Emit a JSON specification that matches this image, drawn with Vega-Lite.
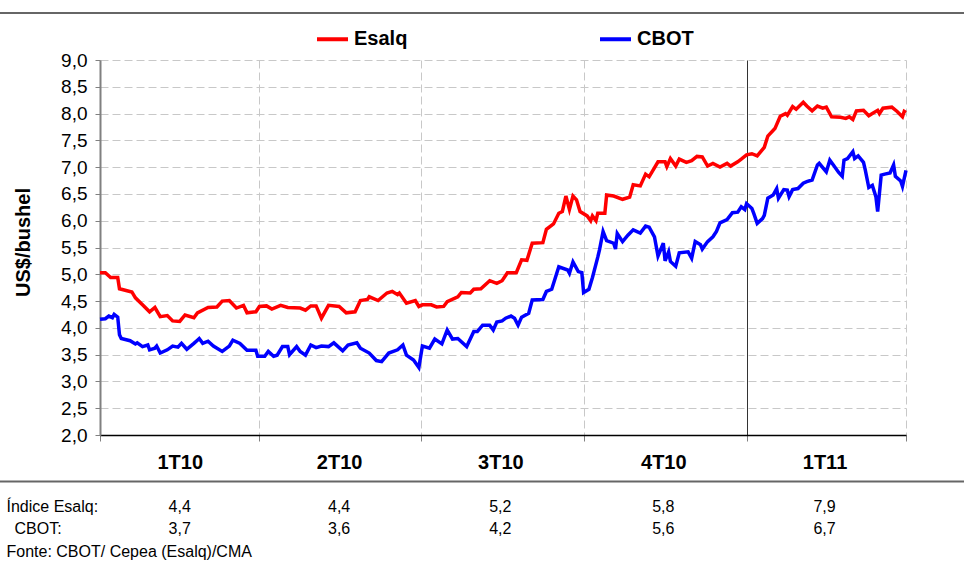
{
"$schema":"https://vega.github.io/schema/vega-lite/v6.json",
"width":964,"height":375,
"autosize":{"type":"none"},
"padding":{"left":0,"top":60,"right":0,"bottom":130},
"background":"white",
"config":{"font":"Liberation Sans","view":{"stroke":null},
"locale":{"number":{"decimal":",","thousands":".","grouping":[3],"currency":["R$",""]}},
"axis":{"labelFont":"Liberation Sans","titleFont":"Liberation Sans"},
"legend":{"labelFont":"Liberation Sans"},
"text":{"font":"Liberation Sans"}},
"datasets":{
"frame":[{"line":"topo"},{"line":"base"}],
"table":[
{"quarter":"2010-02-15","row":"Índice Esalq:","value":4.4},
{"quarter":"2010-05-16","row":"Índice Esalq:","value":4.4},
{"quarter":"2010-08-15","row":"Índice Esalq:","value":5.2},
{"quarter":"2010-11-15","row":"Índice Esalq:","value":5.8},
{"quarter":"2011-02-14","row":"Índice Esalq:","value":7.9},
{"quarter":"2010-02-15","row":"CBOT:","value":3.7},
{"quarter":"2010-05-16","row":"CBOT:","value":3.6},
{"quarter":"2010-08-15","row":"CBOT:","value":4.2},
{"quarter":"2010-11-15","row":"CBOT:","value":5.6},
{"quarter":"2011-02-14","row":"CBOT:","value":6.7}
],
"prices":[
{"date":"2010-01-01","series":"Esalq","price":5.03},
{"date":"2010-01-04","series":"Esalq","price":5.03},
{"date":"2010-01-07","series":"Esalq","price":4.94},
{"date":"2010-01-11","series":"Esalq","price":4.94},
{"date":"2010-01-12","series":"Esalq","price":4.73},
{"date":"2010-01-19","series":"Esalq","price":4.67},
{"date":"2010-01-21","series":"Esalq","price":4.56},
{"date":"2010-01-25","series":"Esalq","price":4.43},
{"date":"2010-01-29","series":"Esalq","price":4.30},
{"date":"2010-02-01","series":"Esalq","price":4.38},
{"date":"2010-02-04","series":"Esalq","price":4.21},
{"date":"2010-02-08","series":"Esalq","price":4.23},
{"date":"2010-02-11","series":"Esalq","price":4.13},
{"date":"2010-02-15","series":"Esalq","price":4.12},
{"date":"2010-02-18","series":"Esalq","price":4.24},
{"date":"2010-02-23","series":"Esalq","price":4.19},
{"date":"2010-02-25","series":"Esalq","price":4.28},
{"date":"2010-03-03","series":"Esalq","price":4.38},
{"date":"2010-03-08","series":"Esalq","price":4.39},
{"date":"2010-03-11","series":"Esalq","price":4.50},
{"date":"2010-03-15","series":"Esalq","price":4.51},
{"date":"2010-03-19","series":"Esalq","price":4.37},
{"date":"2010-03-23","series":"Esalq","price":4.42},
{"date":"2010-03-25","series":"Esalq","price":4.28},
{"date":"2010-03-30","series":"Esalq","price":4.30},
{"date":"2010-04-01","series":"Esalq","price":4.40},
{"date":"2010-04-05","series":"Esalq","price":4.41},
{"date":"2010-04-08","series":"Esalq","price":4.35},
{"date":"2010-04-13","series":"Esalq","price":4.42},
{"date":"2010-04-17","series":"Esalq","price":4.38},
{"date":"2010-04-24","series":"Esalq","price":4.37},
{"date":"2010-04-27","series":"Esalq","price":4.33},
{"date":"2010-04-30","series":"Esalq","price":4.41},
{"date":"2010-05-03","series":"Esalq","price":4.41},
{"date":"2010-05-06","series":"Esalq","price":4.18},
{"date":"2010-05-10","series":"Esalq","price":4.42},
{"date":"2010-05-16","series":"Esalq","price":4.40},
{"date":"2010-05-20","series":"Esalq","price":4.28},
{"date":"2010-05-25","series":"Esalq","price":4.30},
{"date":"2010-05-28","series":"Esalq","price":4.51},
{"date":"2010-06-01","series":"Esalq","price":4.53},
{"date":"2010-06-02","series":"Esalq","price":4.58},
{"date":"2010-06-07","series":"Esalq","price":4.51},
{"date":"2010-06-12","series":"Esalq","price":4.65},
{"date":"2010-06-15","series":"Esalq","price":4.68},
{"date":"2010-06-18","series":"Esalq","price":4.62},
{"date":"2010-06-19","series":"Esalq","price":4.65},
{"date":"2010-06-23","series":"Esalq","price":4.46},
{"date":"2010-06-28","series":"Esalq","price":4.51},
{"date":"2010-06-30","series":"Esalq","price":4.40},
{"date":"2010-07-02","series":"Esalq","price":4.43},
{"date":"2010-07-07","series":"Esalq","price":4.43},
{"date":"2010-07-10","series":"Esalq","price":4.39},
{"date":"2010-07-14","series":"Esalq","price":4.40},
{"date":"2010-07-16","series":"Esalq","price":4.49},
{"date":"2010-07-22","series":"Esalq","price":4.58},
{"date":"2010-07-24","series":"Esalq","price":4.66},
{"date":"2010-07-29","series":"Esalq","price":4.65},
{"date":"2010-07-31","series":"Esalq","price":4.72},
{"date":"2010-08-04","series":"Esalq","price":4.73},
{"date":"2010-08-09","series":"Esalq","price":4.88},
{"date":"2010-08-13","series":"Esalq","price":4.83},
{"date":"2010-08-16","series":"Esalq","price":4.88},
{"date":"2010-08-19","series":"Esalq","price":5.03},
{"date":"2010-08-24","series":"Esalq","price":5.03},
{"date":"2010-08-27","series":"Esalq","price":5.27},
{"date":"2010-08-30","series":"Esalq","price":5.26},
{"date":"2010-09-02","series":"Esalq","price":5.58},
{"date":"2010-09-08","series":"Esalq","price":5.59},
{"date":"2010-09-10","series":"Esalq","price":5.84},
{"date":"2010-09-14","series":"Esalq","price":5.94},
{"date":"2010-09-17","series":"Esalq","price":6.14},
{"date":"2010-09-19","series":"Esalq","price":6.17},
{"date":"2010-09-21","series":"Esalq","price":6.46},
{"date":"2010-09-23","series":"Esalq","price":6.21},
{"date":"2010-09-25","series":"Esalq","price":6.46},
{"date":"2010-09-27","series":"Esalq","price":6.39},
{"date":"2010-09-29","series":"Esalq","price":6.17},
{"date":"2010-10-03","series":"Esalq","price":6.09},
{"date":"2010-10-05","series":"Esalq","price":6.00},
{"date":"2010-10-06","series":"Esalq","price":6.09},
{"date":"2010-10-08","series":"Esalq","price":6.00},
{"date":"2010-10-09","series":"Esalq","price":6.14},
{"date":"2010-10-13","series":"Esalq","price":6.14},
{"date":"2010-10-14","series":"Esalq","price":6.48},
{"date":"2010-10-18","series":"Esalq","price":6.46},
{"date":"2010-10-23","series":"Esalq","price":6.40},
{"date":"2010-10-27","series":"Esalq","price":6.44},
{"date":"2010-10-29","series":"Esalq","price":6.67},
{"date":"2010-11-02","series":"Esalq","price":6.65},
{"date":"2010-11-05","series":"Esalq","price":6.87},
{"date":"2010-11-07","series":"Esalq","price":6.82},
{"date":"2010-11-12","series":"Esalq","price":7.10},
{"date":"2010-11-16","series":"Esalq","price":7.10},
{"date":"2010-11-17","series":"Esalq","price":7.01},
{"date":"2010-11-19","series":"Esalq","price":7.16},
{"date":"2010-11-22","series":"Esalq","price":7.02},
{"date":"2010-11-24","series":"Esalq","price":7.15},
{"date":"2010-11-28","series":"Esalq","price":7.09},
{"date":"2010-12-01","series":"Esalq","price":7.12},
{"date":"2010-12-04","series":"Esalq","price":7.20},
{"date":"2010-12-07","series":"Esalq","price":7.19},
{"date":"2010-12-10","series":"Esalq","price":7.02},
{"date":"2010-12-13","series":"Esalq","price":7.07},
{"date":"2010-12-17","series":"Esalq","price":7.00},
{"date":"2010-12-21","series":"Esalq","price":7.07},
{"date":"2010-12-23","series":"Esalq","price":7.02},
{"date":"2010-12-27","series":"Esalq","price":7.10},
{"date":"2010-12-29","series":"Esalq","price":7.15},
{"date":"2011-01-01","series":"Esalq","price":7.23},
{"date":"2011-01-04","series":"Esalq","price":7.25},
{"date":"2011-01-07","series":"Esalq","price":7.21},
{"date":"2011-01-09","series":"Esalq","price":7.29},
{"date":"2011-01-11","series":"Esalq","price":7.37},
{"date":"2011-01-13","series":"Esalq","price":7.58},
{"date":"2011-01-17","series":"Esalq","price":7.72},
{"date":"2011-01-20","series":"Esalq","price":7.95},
{"date":"2011-01-23","series":"Esalq","price":8.00},
{"date":"2011-01-24","series":"Esalq","price":7.97},
{"date":"2011-01-27","series":"Esalq","price":8.13},
{"date":"2011-01-29","series":"Esalq","price":8.08},
{"date":"2011-02-02","series":"Esalq","price":8.21},
{"date":"2011-02-04","series":"Esalq","price":8.14},
{"date":"2011-02-07","series":"Esalq","price":8.05},
{"date":"2011-02-10","series":"Esalq","price":8.14},
{"date":"2011-02-13","series":"Esalq","price":8.10},
{"date":"2011-02-15","series":"Esalq","price":8.12},
{"date":"2011-02-18","series":"Esalq","price":7.94},
{"date":"2011-02-23","series":"Esalq","price":7.93},
{"date":"2011-02-26","series":"Esalq","price":7.91},
{"date":"2011-02-28","series":"Esalq","price":7.94},
{"date":"2011-03-02","series":"Esalq","price":7.89},
{"date":"2011-03-04","series":"Esalq","price":8.05},
{"date":"2011-03-08","series":"Esalq","price":8.06},
{"date":"2011-03-11","series":"Esalq","price":7.96},
{"date":"2011-03-13","series":"Esalq","price":8.00},
{"date":"2011-03-16","series":"Esalq","price":8.06},
{"date":"2011-03-17","series":"Esalq","price":8.00},
{"date":"2011-03-19","series":"Esalq","price":8.10},
{"date":"2011-03-24","series":"Esalq","price":8.12},
{"date":"2011-03-27","series":"Esalq","price":8.04},
{"date":"2011-03-30","series":"Esalq","price":7.94},
{"date":"2011-03-31","series":"Esalq","price":8.04},
{"date":"2011-04-01","series":"Esalq","price":8.02},
{"date":"2010-01-01","series":"CBOT","price":4.16},
{"date":"2010-01-04","series":"CBOT","price":4.17},
{"date":"2010-01-06","series":"CBOT","price":4.22},
{"date":"2010-01-08","series":"CBOT","price":4.19},
{"date":"2010-01-09","series":"CBOT","price":4.25},
{"date":"2010-01-11","series":"CBOT","price":4.20},
{"date":"2010-01-12","series":"CBOT","price":3.87},
{"date":"2010-01-13","series":"CBOT","price":3.80},
{"date":"2010-01-18","series":"CBOT","price":3.76},
{"date":"2010-01-21","series":"CBOT","price":3.70},
{"date":"2010-01-22","series":"CBOT","price":3.72},
{"date":"2010-01-25","series":"CBOT","price":3.65},
{"date":"2010-01-28","series":"CBOT","price":3.68},
{"date":"2010-01-29","series":"CBOT","price":3.59},
{"date":"2010-02-01","series":"CBOT","price":3.62},
{"date":"2010-02-02","series":"CBOT","price":3.66},
{"date":"2010-02-04","series":"CBOT","price":3.53},
{"date":"2010-02-08","series":"CBOT","price":3.59},
{"date":"2010-02-11","series":"CBOT","price":3.66},
{"date":"2010-02-14","series":"CBOT","price":3.64},
{"date":"2010-02-16","series":"CBOT","price":3.71},
{"date":"2010-02-19","series":"CBOT","price":3.60},
{"date":"2010-02-23","series":"CBOT","price":3.71},
{"date":"2010-02-25","series":"CBOT","price":3.77},
{"date":"2010-02-26","series":"CBOT","price":3.80},
{"date":"2010-02-28","series":"CBOT","price":3.71},
{"date":"2010-03-03","series":"CBOT","price":3.75},
{"date":"2010-03-06","series":"CBOT","price":3.66},
{"date":"2010-03-11","series":"CBOT","price":3.56},
{"date":"2010-03-15","series":"CBOT","price":3.66},
{"date":"2010-03-17","series":"CBOT","price":3.77},
{"date":"2010-03-21","series":"CBOT","price":3.71},
{"date":"2010-03-25","series":"CBOT","price":3.58},
{"date":"2010-03-30","series":"CBOT","price":3.58},
{"date":"2010-03-31","series":"CBOT","price":3.47},
{"date":"2010-04-04","series":"CBOT","price":3.47},
{"date":"2010-04-06","series":"CBOT","price":3.56},
{"date":"2010-04-09","series":"CBOT","price":3.47},
{"date":"2010-04-11","series":"CBOT","price":3.49},
{"date":"2010-04-14","series":"CBOT","price":3.65},
{"date":"2010-04-17","series":"CBOT","price":3.65},
{"date":"2010-04-18","series":"CBOT","price":3.50},
{"date":"2010-04-22","series":"CBOT","price":3.65},
{"date":"2010-04-24","series":"CBOT","price":3.56},
{"date":"2010-04-27","series":"CBOT","price":3.49},
{"date":"2010-04-30","series":"CBOT","price":3.68},
{"date":"2010-05-03","series":"CBOT","price":3.63},
{"date":"2010-05-06","series":"CBOT","price":3.66},
{"date":"2010-05-10","series":"CBOT","price":3.65},
{"date":"2010-05-13","series":"CBOT","price":3.72},
{"date":"2010-05-18","series":"CBOT","price":3.57},
{"date":"2010-05-21","series":"CBOT","price":3.68},
{"date":"2010-05-26","series":"CBOT","price":3.72},
{"date":"2010-05-28","series":"CBOT","price":3.62},
{"date":"2010-06-02","series":"CBOT","price":3.53},
{"date":"2010-06-06","series":"CBOT","price":3.39},
{"date":"2010-06-09","series":"CBOT","price":3.37},
{"date":"2010-06-13","series":"CBOT","price":3.53},
{"date":"2010-06-18","series":"CBOT","price":3.59},
{"date":"2010-06-21","series":"CBOT","price":3.68},
{"date":"2010-06-23","series":"CBOT","price":3.49},
{"date":"2010-06-27","series":"CBOT","price":3.40},
{"date":"2010-06-30","series":"CBOT","price":3.26},
{"date":"2010-07-02","series":"CBOT","price":3.66},
{"date":"2010-07-06","series":"CBOT","price":3.62},
{"date":"2010-07-09","series":"CBOT","price":3.79},
{"date":"2010-07-13","series":"CBOT","price":3.70},
{"date":"2010-07-16","series":"CBOT","price":3.96},
{"date":"2010-07-19","series":"CBOT","price":3.79},
{"date":"2010-07-22","series":"CBOT","price":3.80},
{"date":"2010-07-27","series":"CBOT","price":3.65},
{"date":"2010-07-31","series":"CBOT","price":3.93},
{"date":"2010-08-02","series":"CBOT","price":3.93},
{"date":"2010-08-05","series":"CBOT","price":4.05},
{"date":"2010-08-09","series":"CBOT","price":4.05},
{"date":"2010-08-11","series":"CBOT","price":3.96},
{"date":"2010-08-13","series":"CBOT","price":4.11},
{"date":"2010-08-16","series":"CBOT","price":4.13},
{"date":"2010-08-18","series":"CBOT","price":4.18},
{"date":"2010-08-21","series":"CBOT","price":4.22},
{"date":"2010-08-23","series":"CBOT","price":4.18},
{"date":"2010-08-25","series":"CBOT","price":4.05},
{"date":"2010-08-27","series":"CBOT","price":4.20},
{"date":"2010-08-31","series":"CBOT","price":4.27},
{"date":"2010-09-02","series":"CBOT","price":4.52},
{"date":"2010-09-08","series":"CBOT","price":4.53},
{"date":"2010-09-10","series":"CBOT","price":4.68},
{"date":"2010-09-13","series":"CBOT","price":4.72},
{"date":"2010-09-17","series":"CBOT","price":5.14},
{"date":"2010-09-22","series":"CBOT","price":5.08},
{"date":"2010-09-23","series":"CBOT","price":5.02},
{"date":"2010-09-25","series":"CBOT","price":5.23},
{"date":"2010-09-28","series":"CBOT","price":5.05},
{"date":"2010-09-30","series":"CBOT","price":5.03},
{"date":"2010-10-01","series":"CBOT","price":4.66},
{"date":"2010-10-04","series":"CBOT","price":4.72},
{"date":"2010-10-06","series":"CBOT","price":4.94},
{"date":"2010-10-09","series":"CBOT","price":5.32},
{"date":"2010-10-10","series":"CBOT","price":5.46},
{"date":"2010-10-12","series":"CBOT","price":5.80},
{"date":"2010-10-14","series":"CBOT","price":5.63},
{"date":"2010-10-18","series":"CBOT","price":5.58},
{"date":"2010-10-19","series":"CBOT","price":5.47},
{"date":"2010-10-20","series":"CBOT","price":5.76},
{"date":"2010-10-23","series":"CBOT","price":5.61},
{"date":"2010-10-26","series":"CBOT","price":5.73},
{"date":"2010-10-29","series":"CBOT","price":5.83},
{"date":"2010-11-02","series":"CBOT","price":5.77},
{"date":"2010-11-05","series":"CBOT","price":5.90},
{"date":"2010-11-07","series":"CBOT","price":5.88},
{"date":"2010-11-10","series":"CBOT","price":5.70},
{"date":"2010-11-12","series":"CBOT","price":5.34},
{"date":"2010-11-15","series":"CBOT","price":5.58},
{"date":"2010-11-16","series":"CBOT","price":5.25},
{"date":"2010-11-18","series":"CBOT","price":5.42},
{"date":"2010-11-19","series":"CBOT","price":5.24},
{"date":"2010-11-22","series":"CBOT","price":5.15},
{"date":"2010-11-24","series":"CBOT","price":5.40},
{"date":"2010-11-29","series":"CBOT","price":5.42},
{"date":"2010-12-01","series":"CBOT","price":5.30},
{"date":"2010-12-03","series":"CBOT","price":5.61},
{"date":"2010-12-06","series":"CBOT","price":5.55},
{"date":"2010-12-07","series":"CBOT","price":5.47},
{"date":"2010-12-10","series":"CBOT","price":5.61},
{"date":"2010-12-13","series":"CBOT","price":5.70},
{"date":"2010-12-15","series":"CBOT","price":5.80},
{"date":"2010-12-17","series":"CBOT","price":5.96},
{"date":"2010-12-21","series":"CBOT","price":6.02},
{"date":"2010-12-24","series":"CBOT","price":6.15},
{"date":"2010-12-27","series":"CBOT","price":6.16},
{"date":"2010-12-29","series":"CBOT","price":6.26},
{"date":"2010-12-31","series":"CBOT","price":6.21},
{"date":"2011-01-01","series":"CBOT","price":6.32},
{"date":"2011-01-04","series":"CBOT","price":6.23},
{"date":"2011-01-05","series":"CBOT","price":6.14},
{"date":"2011-01-07","series":"CBOT","price":5.95},
{"date":"2011-01-10","series":"CBOT","price":6.04},
{"date":"2011-01-11","series":"CBOT","price":6.10},
{"date":"2011-01-13","series":"CBOT","price":6.42},
{"date":"2011-01-16","series":"CBOT","price":6.48},
{"date":"2011-01-18","series":"CBOT","price":6.60},
{"date":"2011-01-19","series":"CBOT","price":6.42},
{"date":"2011-01-22","series":"CBOT","price":6.58},
{"date":"2011-01-24","series":"CBOT","price":6.57},
{"date":"2011-01-25","series":"CBOT","price":6.45},
{"date":"2011-01-27","series":"CBOT","price":6.58},
{"date":"2011-01-30","series":"CBOT","price":6.60},
{"date":"2011-02-02","series":"CBOT","price":6.70},
{"date":"2011-02-04","series":"CBOT","price":6.73},
{"date":"2011-02-07","series":"CBOT","price":6.76},
{"date":"2011-02-10","series":"CBOT","price":7.04},
{"date":"2011-02-11","series":"CBOT","price":7.07},
{"date":"2011-02-15","series":"CBOT","price":6.91},
{"date":"2011-02-17","series":"CBOT","price":7.13},
{"date":"2011-02-19","series":"CBOT","price":7.04},
{"date":"2011-02-22","series":"CBOT","price":6.90},
{"date":"2011-02-24","series":"CBOT","price":6.83},
{"date":"2011-02-25","series":"CBOT","price":7.13},
{"date":"2011-02-27","series":"CBOT","price":7.16},
{"date":"2011-03-02","series":"CBOT","price":7.29},
{"date":"2011-03-03","series":"CBOT","price":7.16},
{"date":"2011-03-05","series":"CBOT","price":7.21},
{"date":"2011-03-08","series":"CBOT","price":7.09},
{"date":"2011-03-09","series":"CBOT","price":6.95},
{"date":"2011-03-11","series":"CBOT","price":6.62},
{"date":"2011-03-13","series":"CBOT","price":6.66},
{"date":"2011-03-15","series":"CBOT","price":6.45},
{"date":"2011-03-16","series":"CBOT","price":6.17},
{"date":"2011-03-18","series":"CBOT","price":6.85},
{"date":"2011-03-20","series":"CBOT","price":6.87},
{"date":"2011-03-23","series":"CBOT","price":6.89},
{"date":"2011-03-25","series":"CBOT","price":7.04},
{"date":"2011-03-26","series":"CBOT","price":6.83},
{"date":"2011-03-29","series":"CBOT","price":6.74},
{"date":"2011-03-30","series":"CBOT","price":6.64},
{"date":"2011-04-01","series":"CBOT","price":6.94}
]},
"layer":[
{"data":{"name":"frame"},
"mark":{"type":"rule","color":"#666666","strokeWidth":2},
"encoding":{"y":{"field":"line","type":"nominal","scale":{"type":"point","domain":["topo","base"],"range":[-47,421.5],"padding":0},"axis":null}}},
{"data":{"name":"prices"},
"mark":{"type":"line","strokeWidth":3.5},
"encoding":{
"x":{"field":"date","type":"temporal",
"scale":{"type":"utc","domain":[{"year":2010,"month":1,"date":1,"utc":true},{"year":2011,"month":4,"date":1,"utc":true}],"range":[100,906],"nice":false},
"axis":{"values":[
{"year":2010,"month":1,"date":1,"utc":true},
{"year":2010,"month":2,"date":15,"utc":true},
{"year":2010,"month":4,"date":1,"utc":true},
{"year":2010,"month":5,"date":16,"utc":true},
{"year":2010,"month":7,"date":1,"utc":true},
{"year":2010,"month":8,"date":15,"utc":true},
{"year":2010,"month":10,"date":1,"utc":true},
{"year":2010,"month":11,"date":15,"utc":true},
{"year":2011,"month":1,"date":1,"utc":true},
{"year":2011,"month":2,"date":14,"utc":true},
{"year":2011,"month":4,"date":1,"utc":true}],
"title":null,"grid":true,
"gridColor":{"condition":{"test":"utcyear(datum.value)==2011 && utcmonth(datum.value)==0 && utcdate(datum.value)==1","value":"#333333"},"value":"#c8c8c8"},
"gridDash":{"condition":{"test":"utcyear(datum.value)==2011 && utcmonth(datum.value)==0 && utcdate(datum.value)==1","value":[]},"value":[8,4]},
"gridOpacity":{"condition":{"test":"utcdate(datum.value)==1","value":1},"value":0},
"tickOpacity":{"condition":{"test":"utcdate(datum.value)==1","value":1},"value":0},
"tickColor":"#808080","tickSize":6,
"domainColor":"#000000","domainWidth":1.5,
"labelExpr":"utcdate(datum.value)==1 ? '' : (floor(utcmonth(datum.value)/3)+1) + 'T' + (utcyear(datum.value) % 100)",
"labelFontSize":20,"labelFontWeight":"bold","labelColor":"#000000","labelBaseline":"middle","labelPadding":21,
"labelFlush":false,"labelOverlap":false,"labelBound":false}},
"y":{"field":"price","type":"quantitative",
"scale":{"domain":[2,9],"nice":false,"zero":false},
"axis":{"orient":"left","offset":-100,"values":[2,2.5,3,3.5,4,4.5,5,5.5,6,6.5,7,7.5,8,8.5,9],"format":".1f",
"title":"US$/bushel","titleFontSize":20,"titleFontWeight":"bold","titleColor":"#000000","titleAngle":270,"titleX":-77,"titleY":182,"titleAlign":"center","titleBaseline":"middle",
"labelFontSize":19,"labelColor":"#000000","labelPadding":8,"tickSize":5,"tickColor":"#808080",
"domainColor":"#808080","domainWidth":2,"grid":true,"gridColor":"#c8c8c8","gridDash":[8,4],"labelOverlap":false}},
"color":{"field":"series","type":"nominal",
"scale":{"domain":["Esalq","CBOT"],"range":["#ff0000","#0000ff"]},
"legend":{"orient":"none","legendX":315,"legendY":-38.5,"direction":"horizontal","title":null,
"symbolType":"stroke","symbolStrokeWidth":4,"symbolSize":961,
"labelFontSize":20,"labelFontWeight":"bold","labelColor":"#000000","labelOffset":4,"columnPadding":184,"padding":0}}}},
{"data":{"name":"table"},
"mark":{"type":"text","fontSize":16,"color":"#000000","align":"center","baseline":"middle"},
"encoding":{
"x":{"field":"quarter","type":"temporal","scale":{"type":"utc","domain":[{"year":2010,"month":1,"date":1,"utc":true},{"year":2011,"month":4,"date":1,"utc":true}],"range":[100,906],"nice":false},"axis":null},
"y":{"field":"row","type":"nominal",
"scale":{"type":"point","domain":["Índice Esalq:","CBOT:","Fonte: CBOT/ Cepea (Esalq)/CMA"],"range":[446.5,491],"padding":0},
"axis":{"orient":"left","offset":-6,"title":null,"domain":false,"ticks":false,"tickSize":0,"grid":false,
"labelAlign":"left","labelBaseline":"middle",
"labelPadding":{"condition":{"test":"datum.value=='CBOT:'","value":-8},"value":0},
"labelFontSize":16,"labelColor":"#000000","labelLimit":500,"labelOverlap":false}},
"text":{"field":"value","type":"quantitative","format":".1f"}}}
],
"resolve":{"scale":{"y":"independent"},"axis":{"y":"independent","x":"independent"}}
}
